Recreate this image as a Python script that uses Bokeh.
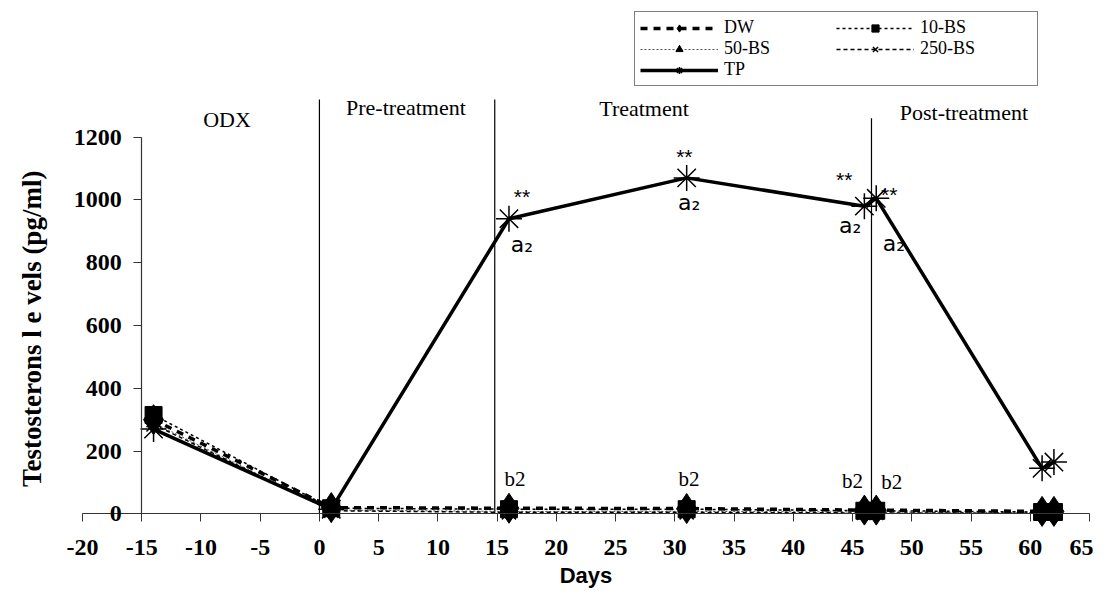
from bokeh.plotting import figure
from bokeh.models import Range1d, Legend, LegendItem, FixedTicker
from bokeh.core.properties import value
from bokeh.embed import file_html
from bokeh.resources import INLINE

# ---- data ----
days = [-14, 1, 16, 31, 46, 47, 61, 62]
dw = [300, 20, 18, 17, 12, 12, 8, 8]
bs10 = [315, 18, 15, 15, 10, 10, 6, 6]
bs50 = [290, 12, 8, 8, 6, 6, 4, 4]
bs250 = [285, 10, 5, 5, 3, 3, 2, 2]
tp = [270, 15, 940, 1070, 980, 1005, 145, 165]

x_ticks = list(range(-20, 66, 5))
y_ticks = list(range(0, 1201, 200))

# phase boundaries (day) and labels
phase_day = [0, 14.8, 46.6]
phase_top = [1320, 1320, 1260]
phase_names = ["ODX", "Pre-treatment", "Treatment", "Post-treatment"]
phase_name_x = [-7.8, 7.3, 27.4, 54.4]
phase_name_y = [1255, 1293, 1290, 1277]

# significance annotations
star_text = ["**", "**", "**", "**"]
star_x = [17.1, 30.8, 44.3, 48.1]
star_y = [1011, 1138, 1065, 1017]
a_text = ["a\u2082", "a\u2082", "a\u2082", "a\u2082"]
a_x = [17.1, 31.2, 44.8, 48.5]
a_y = [858, 991, 918, 861]
b_text = ["b2", "b2", "b2", "b2"]
b_x = [16.5, 31.2, 45.0, 48.3]
b_y = [110, 110, 105, 100]

SERIF = value("Liberation Serif")

p = figure(width=1093, height=588, output_backend="svg", toolbar_location=None,
           x_range=Range1d(-26.92, 65.34), y_range=Range1d(-237.6, 1634.9),
           min_border_left=0, min_border_right=0, min_border_top=0, min_border_bottom=0)
p.outline_line_color = None
p.xgrid.visible = False
p.ygrid.visible = False
p.background_fill_color = "white"

# axes
p.xaxis.fixed_location = 0
p.yaxis.fixed_location = -15
p.xaxis.bounds = (-20, 65)
p.yaxis.bounds = (0, 1200)
p.xaxis.ticker = FixedTicker(ticks=x_ticks)
p.yaxis.ticker = FixedTicker(ticks=y_ticks)
p.xaxis.major_label_overrides = {t: str(t) for t in x_ticks}
for ax in (p.xaxis[0], p.yaxis[0]):
    ax.axis_line_color = "#333333"
    ax.axis_line_width = 1.2
    ax.major_tick_line_color = "#333333"
    ax.major_tick_out = 8
    ax.major_tick_in = 0
    ax.minor_tick_line_color = None
    ax.major_label_text_font = "Liberation Serif"
    ax.major_label_text_font_style = "bold"
    ax.major_label_text_font_size = "24px"
    ax.major_label_text_color = "black"
    ax.axis_label_text_color = "black"
    ax.axis_label_text_font_style = "bold"
p.xaxis.major_label_standoff = 18
p.yaxis.major_label_standoff = 12
p.xaxis.axis_label = "Days"
p.xaxis.axis_label_text_font = "Liberation Sans"
p.xaxis.axis_label_text_font_size = "22px"
p.xaxis.axis_label_standoff = 5
p.yaxis.axis_label = "Testosterons  l e vels (pg/ml)"
p.yaxis.axis_label_text_font = "Liberation Serif"
p.yaxis.axis_label_text_font_size = "27px"
p.yaxis.axis_label_standoff = 24

# phase dividers
p.segment(x0=phase_day, y0=[0] * len(phase_day), x1=phase_day, y1=phase_top,
          line_color="black", line_width=1.2)
p.text(x=phase_name_x, y=phase_name_y, text=phase_names, text_font=SERIF,
       text_font_size="22px", text_align="center", text_baseline="middle", text_color="black")

# series
l50 = p.line(days, bs50, line_color="#555555", line_width=1, line_dash="2 2")
l250 = p.line(days, bs250, line_color="black", line_width=1.5, line_dash="4 3")
l10 = p.line(days, bs10, line_color="black", line_width=1.5, line_dash="3 3")
ldw = p.line(days, dw, line_color="black", line_width=3.5, line_dash="7 6")
ltp = p.line(days, tp, line_color="black", line_width=3.5)

m50 = p.scatter(days, bs50, marker="triangle", size=14, fill_color="black", line_color="black")
m250 = p.scatter(days, bs250, marker="x", size=20, line_color="black", line_width=1.5)
m10 = p.scatter(days, bs10, marker="square", size=17, fill_color="black", line_color="black")
mtp = p.scatter(days, tp, marker="asterisk", size=26, line_color="black", line_width=1.5)
mdw = p.scatter(days, dw, marker="diamond", size=30, fill_color="black", line_color="black")

# annotations
p.text(x=star_x, y=star_y, text=star_text, text_font=value("Liberation Sans"),
       text_font_size="21px", text_align="center", text_baseline="middle", text_color="black")
p.text(x=a_x, y=a_y, text=a_text, text_font=value("DejaVu Sans"),
       text_font_size="22px", text_align="center", text_baseline="middle", text_color="black")
p.text(x=b_x, y=b_y, text=b_text, text_font=SERIF,
       text_font_size="21px", text_align="center", text_baseline="middle", text_color="black")

legend = Legend(items=[
    LegendItem(label="DW", renderers=[ldw, mdw]),
    LegendItem(label="50-BS", renderers=[l50, m50]),
    LegendItem(label="TP", renderers=[ltp, mtp]),
    LegendItem(label="10-BS", renderers=[l10, m10]),
    LegendItem(label="250-BS", renderers=[l250, m250]),
], location=(634, 502), orientation="vertical", nrows=3)
legend.label_text_font = "Liberation Serif"
legend.label_text_font_size = "18px"
legend.label_text_color = "black"
legend.glyph_width = 78
legend.glyph_height = 18
legend.label_height = 18
legend.label_standoff = 6
legend.label_width = 112
legend.spacing = 0
legend.padding = 5
legend.margin = 0
legend.border_line_color = "black"
legend.border_line_width = 1
legend.background_fill_alpha = 1
p.add_layout(legend)

open("out.html", "w").write(file_html(p, INLINE))
